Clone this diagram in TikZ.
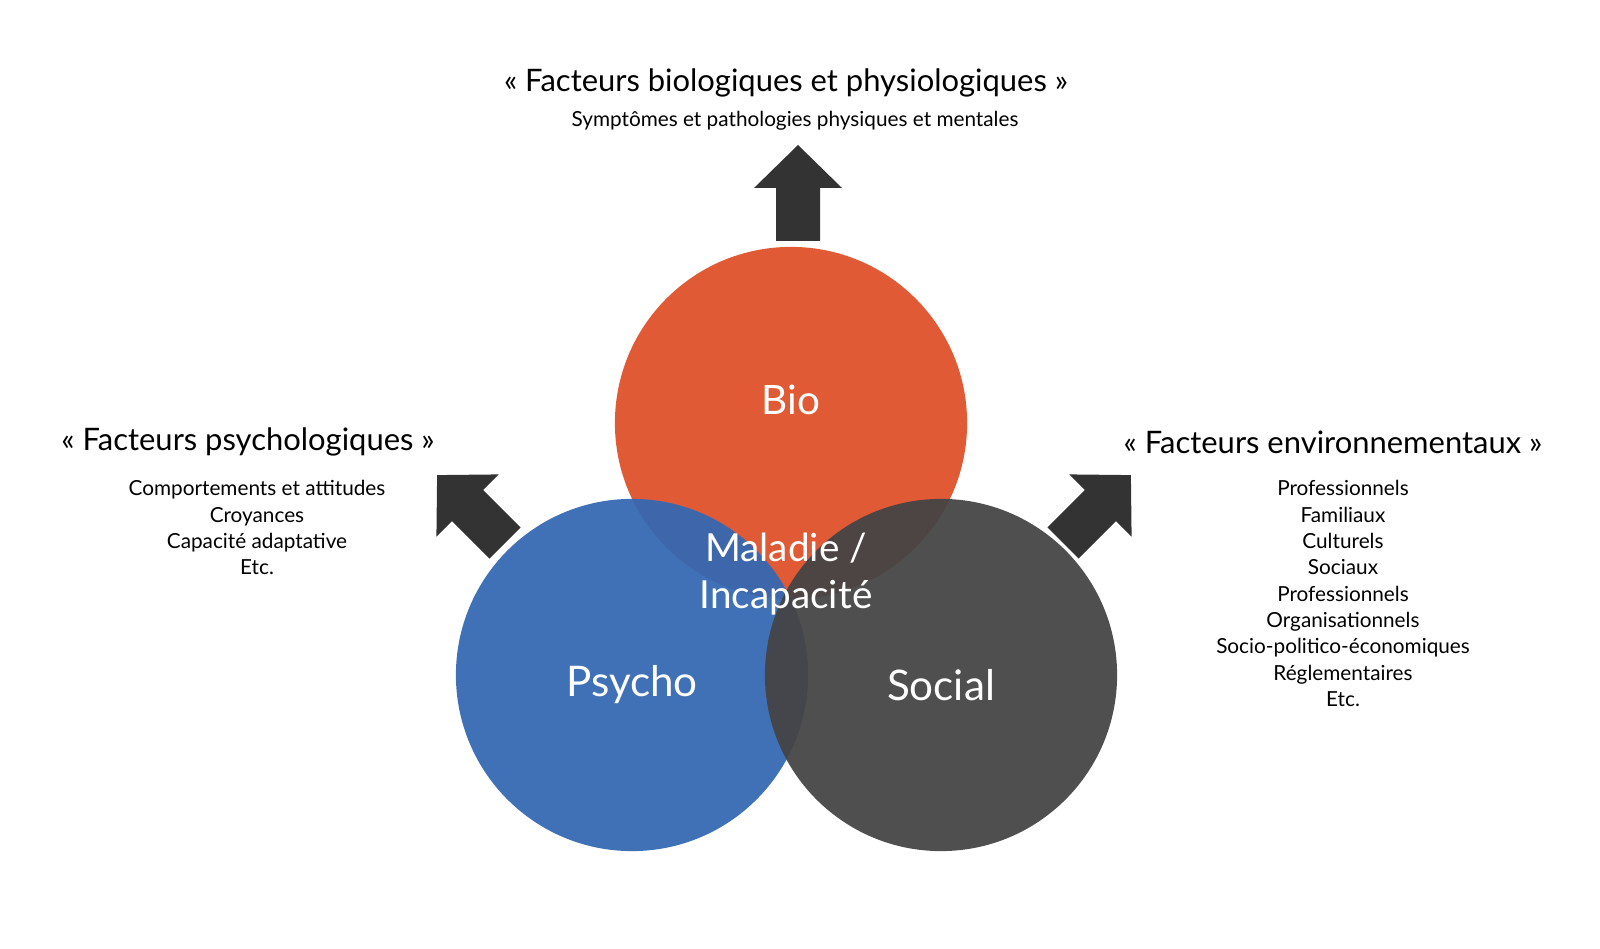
\documentclass[tikz,border=0pt]{standalone}
\usepackage{fontspec}
\setmainfont{Lato}
\usetikzlibrary{positioning}
\definecolor{bioc}{HTML}{E05A35}
\definecolor{psyc}{HTML}{3468B3}
\definecolor{socc}{HTML}{444444}
\definecolor{arrc}{HTML}{333333}
\tikzset{
  circ/.style={circle, minimum size=3.52cm, inner sep=0pt},
  bigarrow/.pic={\fill [arrc] (-22,0) -- (-22,-53) -- (-44,-53) -- (0,-96) -- (44,-53) -- (22,-53) -- (22,0) -- cycle;},
  title/.style={font=\fontsize{8.8}{11}\selectfont},
  sub/.style={font=\fontsize{5.9}{7.5}\selectfont, align=center},
  lab/.style={text=white, font=\fontsize{11.5}{13}\selectfont, align=center}
}
\begin{document}
\begin{tikzpicture}[x=0.01cm, y=-0.01cm]
\useasboundingbox (0,0) rectangle (1600,949);

\node [circ, fill=bioc] (bio) at (791,423) {};
\node [circ, fill=psyc, fill opacity=0.94] (psycho) at (632,675) {};
\node [circ, fill=socc, fill opacity=0.94] (social) at (941,675) {};

\node [lab] at (791,400) {Bio};
\node [lab, font=\fontsize{12}{13}\selectfont] at (632,685) {Psycho};
\node [lab, font=\fontsize{12}{13}\selectfont] at (941,685) {Social};
\node [lab, font=\fontsize{11}{13.5}\selectfont] (centre) at (786,574) {Maladie /\\Incapacité};

% arrows
\pic at (798,241) {bigarrow};
\pic [rotate=45] at (505,543) {bigarrow};
\pic [rotate=-45] at (1063,543) {bigarrow};

% texts
\node [title] (t-bio) at (786,83) {« Facteurs biologiques et physiologiques »};
\node [sub] (s-bio) at (795,121) {Symptômes et pathologies physiques et mentales};

\node [title] (t-psy) at (248,442) {« Facteurs psychologiques »};
\node [sub, anchor=north] (s-psy) at (257,468)
  {Comportements et attitudes\\Croyances\\Capacité adaptative\\Etc.};

\node [title] (t-env) at (1333,442) {« Facteurs environnementaux »};
\node [sub, anchor=north] (s-env) at (1343,468)
  {Professionnels\\Familiaux\\Culturels\\Sociaux\\Professionnels\\Organisationnels\\Socio-politico-économiques\\Réglementaires\\Etc.};
\end{tikzpicture}
\end{document}
